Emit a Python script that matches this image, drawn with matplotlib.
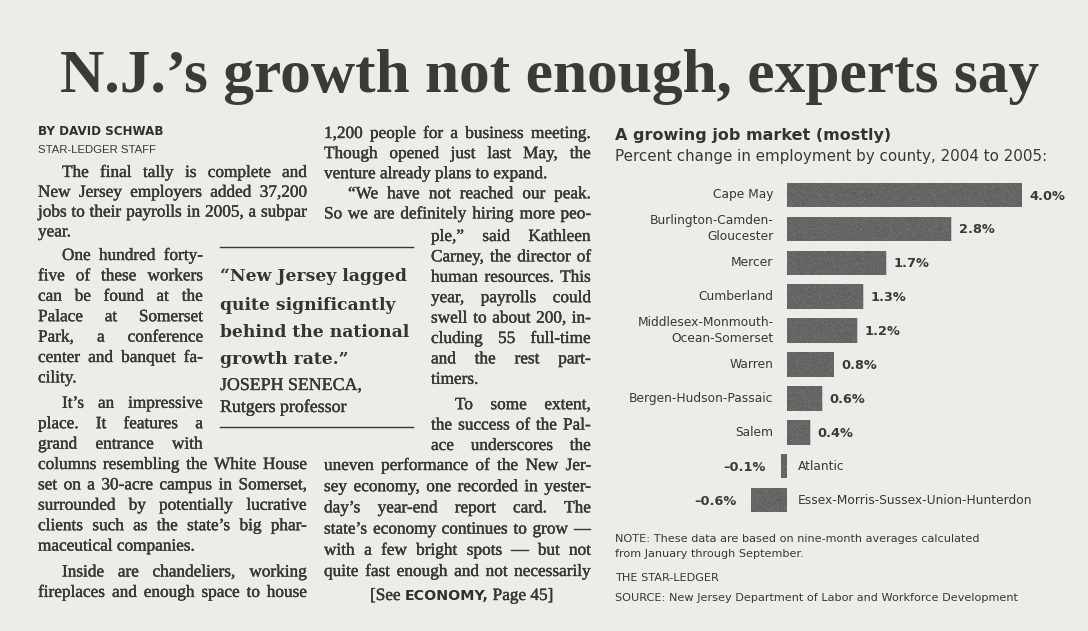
import numpy as np
import matplotlib.pyplot as plt
from matplotlib import font_manager as fm
from matplotlib import patheffects as pe

W, H = 1088, 631
PAPER = '#ecece9'
INK = '#373733'
BAR = '#585854'

SERIF = 'DejaVu Serif'
BODY = 'Liberation Serif'
SANS = 'DejaVu Sans'
installed = {f.name for f in fm.fontManager.ttflist}
NARROW = 'Liberation Sans Narrow' if 'Liberation Sans Narrow' in installed else 'Liberation Sans'
# newsprint ink spreads a little: thicken the light body face a touch
INKED = [pe.withStroke(linewidth=0.28, foreground=INK)]

headline = 'N.J.’s growth not enough, experts say'

# article text, line by line as set in the columns
col1_top = ['The final tally is complete and',
            'New Jersey employers added 37,200',
            'jobs to their payrolls in 2005, a subpar',
            'year.']
col1_narrow = ['One hundred forty-',
               'five of these workers',
               'can be found at the',
               'Palace at Somerset',
               'Park, a conference',
               'center and banquet fa-',
               'cility.',
               'It’s an impressive',
               'place. It features a',
               'grand entrance with']
col1_bottom = ['columns resembling the White House',
               'set on a 30-acre campus in Somerset,',
               'surrounded by potentially lucrative',
               'clients such as the state’s big phar-',
               'maceutical companies.',
               'Inside are chandeliers, working',
               'fireplaces and enough space to house']
col2_top = ['1,200 people for a business meeting.',
            'Though opened just last May, the',
            'venture already plans to expand.',
            '“We have not reached our peak.',
            'So we are definitely hiring more peo-']
col2_narrow = ['ple,” said Kathleen',
               'Carney, the director of',
               'human resources. This',
               'year, payrolls could',
               'swell to about 200, in-',
               'cluding 55 full-time',
               'and the rest part-',
               'timers.',
               'To some extent,',
               'the success of the Pal-',
               'ace underscores the']
col2_bottom = ['uneven performance of the New Jer-',
               'sey economy, one recorded in yester-',
               'day’s year-end report card. The',
               'state’s economy continues to grow —',
               'with a few bright spots — but not',
               'quite fast enough and not necessarily']

quote = ['“New Jersey lagged', 'quite significantly', 'behind the national', 'growth rate.”']
quote_by = ['JOSEPH SENECA,', 'Rutgers professor']

# chart data
chart_title = 'A growing job market (mostly)'
chart_sub = 'Percent change in employment by county, 2004 to 2005:'
counties = ['Cape May', 'Burlington-Camden-\nGloucester', 'Mercer', 'Cumberland',
            'Middlesex-Monmouth-\nOcean-Somerset', 'Warren', 'Bergen-Hudson-Passaic',
            'Salem', 'Atlantic', 'Essex-Morris-Sussex-Union-Hunterdon']
change = [4.0, 2.8, 1.7, 1.3, 1.2, 0.8, 0.6, 0.4, -0.1, -0.6]
notes = ['NOTE: These data are based on nine-month averages calculated',
         'from January through September.']
credit = 'THE STAR-LEDGER'
source = 'SOURCE: New Jersey Department of Labor and Workforce Development'

fig = plt.figure(figsize=(W / 100, H / 100), dpi=100)
fig.patch.set_facecolor(PAPER)
ax = fig.add_axes([0, 0, 1, 1])
ax.set_xlim(0, W)
ax.set_ylim(H, 0)
ax.axis('off')
rend = fig.canvas.get_renderer()


def wid(t):
    return t.get_window_extent(rend).width


def fitted(axes, x, y, s, width, **kw):
    t = axes.text(x, y, s, fontsize=10, **kw)
    t.set_fontsize(10 * width / wid(t))
    return t


def word_widths(line, fs):
    out = []
    for w in line.split(' '):
        t = ax.text(0, 0, w, fontsize=fs, family=BODY)
        out.append(wid(t))
        t.remove()
    return out


def body_text(x, y, s, fs):
    return ax.text(x, y, s, fontsize=fs, family=BODY, color=INK, va='baseline',
                   path_effects=INKED)


# headline
fitted(ax, 60, 92, headline, 982, family='Liberation Serif', weight='bold',
       color='#3a3a36', va='baseline')

# byline
fitted(ax, 38, 135, 'BY DAVID SCHWAB', 125, family=SANS, weight='bold',
       color='#2f2f2c', va='baseline')
fitted(ax, 38, 153, 'STAR-LEDGER STAFF', 119, family=NARROW, color=INK, va='baseline')

# body columns: (lines, x0, x1, first baseline, step, indented rows, ragged rows, extra gap)
blocks = [
    (col1_top, 38, 307, 177, 19.8, {0}, {3}, {}),
    (col1_narrow, 38, 203, 260, 20.4, {0, 7}, {6}, {7: 5}),
    (col1_bottom, 38, 307, 469, 20.4, {5}, {4}, {5: 5.5}),
    (col2_top, 324, 591, 138, 20.1, {3}, {2}, {}),
    (col2_narrow, 431, 591, 241, 20.4, {8}, {7}, {8: 5}),
    (col2_bottom, 324, 591, 470, 21.2, set(), set(), {}),
]
INDENT = 24

# pick the body size so the tightest justified line still keeps real word gaps
base = 12.4
scale = 1.0
for lines, x0, x1, y0, step, ind, rag, gap in blocks:
    for i, line in enumerate(lines):
        if i in rag:
            continue
        ws = word_widths(line, base)
        avail = x1 - x0 - (INDENT if i in ind else 0) - 2.5 * (len(ws) - 1)
        scale = min(scale, avail / sum(ws))
body_fs = base * scale

for lines, x0, x1, y0, step, ind, rag, gap in blocks:
    y = y0
    for i, line in enumerate(lines):
        y += gap.get(i, 0)
        xs = x0 + (INDENT if i in ind else 0)
        if i in rag:
            body_text(xs, y, line, body_fs)
        else:
            ts = [body_text(xs, y, w, body_fs) for w in line.split(' ')]
            ws = [wid(t) for t in ts]
            g = (x1 - xs - sum(ws)) / (len(ws) - 1)
            x = xs
            for t, w in zip(ts, ws):
                t.set_x(x)
                x += w + g
        y += step

# jump line
t = body_text(370, 600, '[See', body_fs)
fitted(ax, 370 + wid(t) + 4, 600, 'ECONOMY,', 84, family=SANS, weight='bold',
       color='#2f2f2c', va='baseline')
body_text(370 + wid(t) + 4 + 84 + 4, 600, 'Page 45]', body_fs)

# pull quote
ax.plot([220, 413], [247, 247], color=INK, lw=1.0)
ax.plot([220, 413], [427, 427], color=INK, lw=1.0)
qt = fitted(ax, 220, 337, quote[2], 189, family=SERIF, weight='bold', color='#35352f',
            va='baseline')
for s, y in zip(quote, [281, 309.5, 337, 364]):
    if s != quote[2]:
        ax.text(220, y, s, fontsize=qt.get_fontsize(), family=SERIF, weight='bold',
                color='#35352f', va='baseline')
bt = fitted(ax, 220, 412, quote_by[1], 126, family=BODY, color=INK, va='baseline',
            path_effects=INKED)
ax.text(220, 390, quote_by[0], fontsize=bt.get_fontsize(), family=BODY, color=INK,
        va='baseline', path_effects=INKED)

# chart header and footer
fitted(ax, 615, 140, chart_title, 275, family=SANS, weight='bold', color='#333330',
       va='baseline')
fitted(ax, 615, 161, chart_sub, 432, family=SANS, color=INK, va='baseline')
nt = fitted(ax, 615, 542, notes[0], 365, family=SANS, color=INK, va='baseline')
ax.text(615, 557, notes[1], fontsize=nt.get_fontsize(), family=SANS, color=INK, va='baseline')
ax.text(615, 581, credit, fontsize=nt.get_fontsize(), family=SANS, color=INK, va='baseline')
fitted(ax, 615, 601, source, 403, family=SANS, color=INK, va='baseline')

# bar chart
n = len(change)
x_zero, px_per = 786.5, 58.75
row0, row_step = 195.0, 33.9
xlo, xhi = -1.6, 5.0
left_px = x_zero + xlo * px_per
bottom_px = row0 + (n - 0.5) * row_step
ax2 = fig.add_axes([left_px / W, 1 - bottom_px / H, (xhi - xlo) * px_per / W, n * row_step / H])
ax2.set_xlim(xlo, xhi)
ax2.set_ylim(n - 0.5, -0.5)
ax2.axis('off')

ypos = np.arange(n)
bars = ax2.barh(ypos, change, height=0.72, color=BAR)

# halftone grain inside the bars
rng = np.random.default_rng(7)
grain = rng.normal(0, 1, (340, 380))
for b in bars:
    im = ax2.imshow(grain, cmap='gray', vmin=-9, vmax=9, alpha=0.35, aspect='auto',
                    extent=(xlo, xhi, n - 0.5, -0.5), interpolation='nearest', zorder=2)
    im.set_clip_path(b)
ax2.set_xlim(xlo, xhi)
ax2.set_ylim(n - 0.5, -0.5)

cat = fitted(ax2, 0.2, n - 1, counties[-1], 233, family=SANS, color=INK, va='center')
cat.remove()
val = fitted(ax2, 0, 0, '4.0%', 36, family=SANS, weight='bold', color=INK, va='center')
val.remove()
cat_fs, val_fs = cat.get_fontsize(), val.get_fontsize()

for i, (name, v) in enumerate(zip(counties, change)):
    label = f'{v:.1f}%'.replace('-', '–')
    if v >= 0:
        ax2.text(-0.22, i, name, fontsize=cat_fs, family=SANS, color=INK, ha='right',
                 va='center', linespacing=1.3)
        ax2.text(v + 0.13, i + 0.03, label, fontsize=val_fs, family=SANS, weight='bold',
                 color='#3a3a36', ha='left', va='center')
    else:
        ax2.text(v - 0.25, i + 0.03, label, fontsize=val_fs, family=SANS, weight='bold',
                 color='#3a3a36', ha='right', va='center')
        ax2.text(0.19, i, name, fontsize=cat_fs, family=SANS, color=INK, ha='left',
                 va='center')

fig.savefig('out.png', dpi=100, facecolor=PAPER)
